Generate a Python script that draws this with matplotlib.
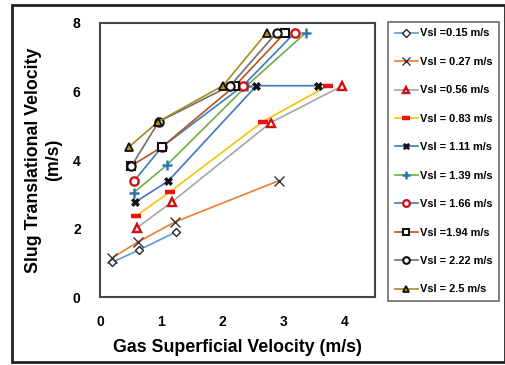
import matplotlib.pyplot as plt
from matplotlib.patches import Rectangle

plt.rcParams['font.family'] = ['Liberation Sans', 'DejaVu Sans']
plt.rcParams['font.weight'] = 'bold'

# data (gas superficial velocity, slug translational velocity)
labels = ['Vsl =0.15 m/s', 'Vsl = 0.27 m/s', 'Vsl =0.56 m/s', 'Vsl = 0.83 m/s',
          'Vsl = 1.11 m/s', 'Vsl = 1.39 m/s', 'Vsl = 1.66 m/s', 'Vsl =1.94 m/s',
          'Vsl = 2.22 m/s', 'Vsl = 2.5 m/s']

vsg_015 = [0.20, 0.63, 1.24]
vt_015 = [1.02, 1.37, 1.90]
vsg_027 = [0.20, 0.62, 1.22, 2.93]
vt_027 = [1.15, 1.61, 2.19, 3.40]
vsg_056 = [0.60, 1.17, 2.79, 3.96]
vt_056 = [2.02, 2.77, 5.09, 6.16]
vsg_083 = [0.59, 1.14, 2.66, 3.73]
vt_083 = [2.37, 3.07, 5.12, 6.17]
vsg_111 = [0.57, 1.11, 2.56, 3.56]
vt_111 = [2.77, 3.38, 6.17, 6.17]
vsg_139 = [0.55, 1.09, 2.40, 3.37]
vt_139 = [3.05, 3.85, 6.17, 7.72]
vsg_166 = [0.55, 1.01, 2.34, 3.19]
vt_166 = [3.38, 4.38, 6.17, 7.72]
vsg_194 = [0.50, 1.01, 2.21, 3.03]
vt_194 = [3.82, 4.38, 6.17, 7.72]
vsg_222 = [0.51, 0.96, 2.13, 2.89]
vt_222 = [3.82, 5.12, 6.17, 7.72]
vsg_250 = [0.47, 0.95, 2.01, 2.73]
vt_250 = [4.38, 5.12, 6.17, 7.72]

xs = [vsg_015, vsg_027, vsg_056, vsg_083, vsg_111, vsg_139, vsg_166, vsg_194, vsg_222, vsg_250]
ys = [vt_015, vt_027, vt_056, vt_083, vt_111, vt_139, vt_166, vt_194, vt_222, vt_250]

line_colors = ['#5B9BD5', '#ED7D31', '#A5A5A5', '#FFC000', '#4472C4',
               '#70AD47', '#3A7CC4', '#B5541B', '#6F6F6F', '#A88A1E']
styles = [
    dict(marker='D', ms=4.5, mfc='white', mec='#222222', mew=1.0),
    dict(marker='x', ms=6.5, mec='#333333', mew=1.0),
    dict(marker='^', ms=6, mfc='white', mec='#D01010', mew=1.7),
    dict(marker='_', ms=7, mec='#EE1010', mew=3.2),
    dict(marker='X', ms=6, mfc='#111111', mec='#111111', mew=0.5),
    dict(marker='+', ms=7, mec='#2E75B6', mew=1.8),
    dict(marker='o', ms=6, mfc='white', mec='#CC1515', mew=1.7),
    dict(marker='s', ms=6, mfc='white', mec='#111111', mew=1.5),
    dict(marker='o', ms=6, mfc='white', mec='#111111', mew=1.5),
    dict(marker='^', ms=6, mfc='#B8960C', mec='#111111', mew=1.3),
]

fig = plt.figure(figsize=(5.06, 3.65), dpi=100)
ax = fig.add_axes([0.198, 0.186, 0.543, 0.751])

for x, y, c, st, lab in zip(xs, ys, line_colors, styles, labels):
    ax.plot(x, y, color=c, lw=1.2, label=lab, **st)

ax.set_xlim(0, 4.5)
ax.set_ylim(0, 8)
ax.set_xticks([0, 1, 2, 3, 4])
ax.set_yticks([0, 2, 4, 6, 8])
ax.tick_params(length=0, labelsize=10)
ax.tick_params(axis='y', pad=14)
ax.tick_params(axis='x', pad=13)
for s in ax.spines.values():
    s.set_color('#444444')
    s.set_linewidth(1.5)

ax.set_xlabel('Gas Superficial Velocity (m/s)', fontsize=12.8, fontweight='bold', labelpad=7)
ax.set_ylabel('Slug Translational Velocity\n(m/s)', fontsize=12.8, fontweight='bold', labelpad=8)

leg = fig.legend(loc='upper left', bbox_to_anchor=(0.767, 0.94), fontsize=7.9,
                 frameon=True, fancybox=False, edgecolor='#444444',
                 labelspacing=1.68, handlelength=2.1, handletextpad=0.2,
                 borderpad=0.6, borderaxespad=0, markerscale=0.8)
leg.get_frame().set_linewidth(1.2)

fig.patches.append(Rectangle((0.024, 0.008), 0.974, 0.978, transform=fig.transFigure,
                             fill=False, edgecolor='#222222', lw=2))

fig.savefig('out.png', dpi=100)
